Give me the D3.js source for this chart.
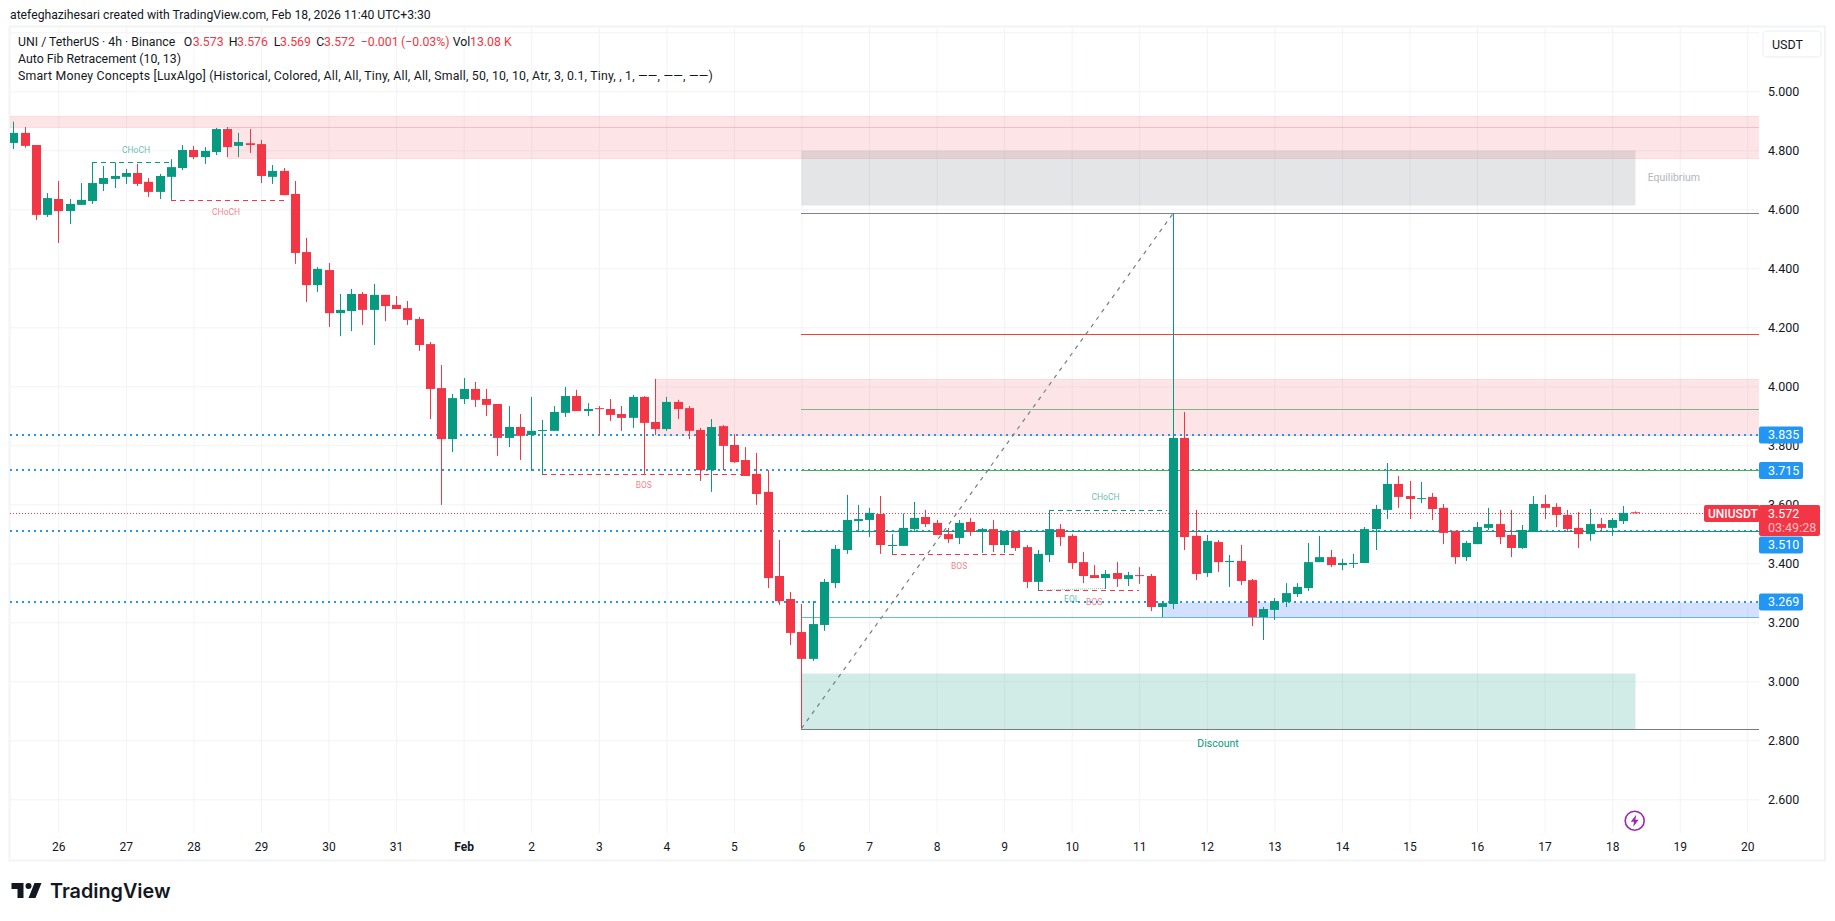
<!DOCTYPE html>
<html>
<head>
<meta charset="utf-8">
<script src="https://cdnjs.cloudflare.com/ajax/libs/d3/7.8.5/d3.min.js"></script>
<style>
    html, body { margin: 0; padding: 0; background: #fff; }
    svg { display: block; }
    text { font-family: Roboto, "Noto Sans", sans-serif; fill: #131722; }
</style>
</head>
<body>
<div id="chart"></div>
<script>
// 4h candles. Bar 0 is the first visible candle
const opens = [4.825,4.859,4.818,4.581,4.635,4.594,4.615,4.628,4.686,4.703,4.710,4.723,4.693,4.659,4.710,4.740,4.801,4.777,4.794,4.872,4.815,4.824,4.821,4.710,4.730,4.652,4.455,4.343,4.394,4.248,4.255,4.313,4.259,4.310,4.276,4.265,4.228,4.143,3.994,3.821,3.957,3.991,3.957,3.940,3.825,3.862,3.835,3.849,3.849,3.910,3.967,3.916,3.926,3.923,3.906,3.893,3.964,3.879,3.855,3.947,3.926,3.852,3.716,3.865,3.801,3.750,3.703,3.642,3.357,3.279,3.167,3.076,3.191,3.333,3.445,3.543,3.547,3.567,3.460,3.459,3.516,3.557,3.537,3.499,3.486,3.540,3.507,3.516,3.462,3.507,3.455,3.337,3.428,3.516,3.493,3.404,3.360,3.350,3.367,3.347,3.360,3.357,3.252,3.262,3.825,3.493,3.367,3.472,3.404,3.408,3.343,3.218,3.242,3.269,3.296,3.316,3.404,3.421,3.394,3.399,3.401,3.516,3.581,3.669,3.628,3.618,3.625,3.588,3.510,3.421,3.465,3.520,3.533,3.496,3.452,3.506,3.601,3.591,3.564,3.520,3.499,3.533,3.520,3.543,3.573];
const highs = [4.897,4.879,4.818,4.655,4.696,4.635,4.689,4.759,4.747,4.759,4.737,4.754,4.706,4.720,4.770,4.818,4.815,4.811,4.876,4.879,4.859,4.872,4.835,4.750,4.740,4.696,4.503,4.404,4.418,4.313,4.330,4.320,4.347,4.310,4.306,4.289,4.235,4.150,4.072,3.974,4.028,4.015,3.991,3.940,3.933,3.906,3.964,3.886,3.933,3.998,3.988,3.943,3.933,3.957,3.933,3.971,3.967,4.025,3.964,3.954,3.933,3.859,3.889,3.869,3.838,3.794,3.774,3.716,3.479,3.303,3.262,3.272,3.347,3.462,3.632,3.598,3.588,3.628,3.499,3.569,3.608,3.581,3.547,3.520,3.547,3.554,3.520,3.547,3.510,3.507,3.462,3.445,3.581,3.533,3.499,3.438,3.394,3.377,3.404,3.371,3.387,3.364,3.272,4.586,3.913,3.581,3.496,3.479,3.428,3.462,3.347,3.252,3.282,3.333,3.333,3.469,3.493,3.445,3.415,3.432,3.523,3.598,3.740,3.696,3.679,3.676,3.638,3.601,3.510,3.476,3.540,3.588,3.581,3.581,3.530,3.628,3.632,3.604,3.581,3.574,3.584,3.554,3.554,3.594,3.576];
const lows = [4.804,4.809,4.564,4.574,4.486,4.550,4.615,4.618,4.662,4.672,4.686,4.679,4.642,4.635,4.632,4.733,4.770,4.754,4.784,4.777,4.777,4.791,4.689,4.686,4.648,4.415,4.286,4.320,4.201,4.170,4.187,4.208,4.140,4.221,4.262,4.208,4.120,3.889,3.598,3.777,3.940,3.930,3.899,3.764,3.794,3.750,3.713,3.702,3.849,3.896,3.916,3.899,3.835,3.882,3.849,3.859,3.699,3.835,3.849,3.889,3.821,3.679,3.642,3.716,3.740,3.696,3.598,3.316,3.259,3.123,2.840,3.069,3.171,3.316,3.432,3.510,3.489,3.432,3.429,3.459,3.510,3.523,3.496,3.469,3.465,3.493,3.435,3.438,3.435,3.442,3.316,3.307,3.404,3.459,3.381,3.333,3.350,3.313,3.320,3.323,3.330,3.238,3.218,3.245,3.445,3.343,3.354,3.371,3.320,3.326,3.187,3.140,3.208,3.252,3.286,3.306,3.404,3.387,3.377,3.384,3.401,3.445,3.550,3.588,3.550,3.604,3.547,3.465,3.398,3.408,3.465,3.513,3.465,3.421,3.449,3.506,3.550,3.523,3.510,3.452,3.476,3.510,3.493,3.533,3.569];
const closes = [4.859,4.815,4.581,4.638,4.594,4.618,4.632,4.689,4.706,4.713,4.723,4.686,4.659,4.713,4.743,4.801,4.777,4.798,4.872,4.811,4.828,4.818,4.713,4.730,4.648,4.452,4.343,4.398,4.248,4.259,4.313,4.259,4.310,4.272,4.262,4.225,4.140,3.991,3.821,3.960,3.991,3.954,3.937,3.825,3.862,3.832,3.849,3.852,3.913,3.967,3.916,3.923,3.923,3.903,3.893,3.964,3.876,3.855,3.947,3.923,3.849,3.716,3.862,3.798,3.743,3.696,3.635,3.350,3.272,3.164,3.076,3.194,3.337,3.449,3.547,3.550,3.571,3.462,3.462,3.520,3.554,3.533,3.496,3.482,3.537,3.507,3.516,3.462,3.510,3.452,3.337,3.432,3.516,3.489,3.401,3.357,3.350,3.364,3.347,3.360,3.358,3.252,3.265,3.825,3.489,3.364,3.476,3.404,3.408,3.340,3.218,3.245,3.272,3.299,3.320,3.404,3.421,3.394,3.401,3.401,3.516,3.584,3.669,3.625,3.618,3.621,3.584,3.503,3.421,3.469,3.523,3.533,3.489,3.452,3.513,3.601,3.588,3.564,3.516,3.499,3.533,3.520,3.547,3.571,3.572];

// axis values
const gridPrices = [2.6,2.8,3.0,3.2,3.4,3.6,3.8,4.0,4.2,4.4,4.6,4.8,5.0,5.2];
const labelPrices = [2.6,2.8,3.0,3.2,3.4,3.6,3.8,4.0,4.2,4.4,4.6,4.8,5.0];
const dayLabels = ["26","27","28","29","30","31","Feb","2","3","4","5","6","7","8","9","10","11","12","13","14","15","16","17","18","19","20"];

// drawings on the chart: [fromBar, toBar, top, bottom], toBar null = right edge
const supplyZones = [[-4,null,4.916,4.879],[19,null,4.879,4.775],[57,null,4.025,3.834]];
const equilibriumZone = [70,144,4.801,4.614];
const discountZone = [70,144,3.028,2.840];
const demandZone = [102,null,3.270,3.217];
const horizontalLevels = [3.835,3.715,3.510,3.269];
const fibLevels = [4.586,4.176,3.922,3.716,3.508,3.217,2.840];
const fibColors = ["#7c80a5","#f44336","#81b784","#4caf50","#089981","#64b5f6","#787b86"];
const fibFromBar = 70;
const fibTrend = [[70,2.840],[103,4.586]];

// structure breaks: [fromBar, toBar, price]
const greenBreaks = [[7,14,4.759],[92,102.5,3.580]];
const redBreaks = [[14,24.3,4.631],[47,65,3.702],[78,89,3.430],[91,100,3.308]];
const eqlLine = [[91,3.308],[97,3.315]];

// little labels: [bar, price, text]
const greenNotes = [[10.9,4.802,"CHoCH"],[94,3.278,"EQL"],[97,3.624,"CHoCH"]];
const redNotes = [[18.9,4.590,"CHoCH"],[56,3.664,"BOS"],[84,3.390,"BOS"],[96,3.268,"BOS"]];

const lastPrice = 3.572;
const priceTagLabels = ["3.835","3.715","3.510","3.269"];

// legend row 1: [x, text, colour]
const legendRow = [
    [18,"UNI / TetherUS · 4h · Binance","#131722"],
    [183.7,"O","#131722"],[192.7,"3.573","#f23645"],
    [228.7,"H","#131722"],[237,"3.576","#f23645"],
    [273.7,"L","#131722"],[280,"3.569","#f23645"],
    [316.3,"C","#131722"],[324,"3.572","#f23645"],
    [360.7,"−0.001","#f23645"],[401,"(−0.03%)","#f23645"],
    [452.7,"Vol","#131722"],[470,"13.08 K","#f23645"]
];

const width = 1835, height = 921;
const plot = { left: 10, right: 1759, top: 27, bottom: 833 };
const UP = "#089981", DOWN = "#f23645", BLUE = "#2196f3";

const svg = d3.select("#chart").append("svg")
    .attr("width", width)
    .attr("height", height)
    .attr("viewBox", "0 0 " + width + " " + height);

const bars = closes.map(function (c, i) {
    return { i: i, open: opens[i], high: highs[i], low: lows[i], close: c };
});

// bar 4 sits on the 26 tick, six bars a day
const x = d3.scaleLinear().domain([4, 154]).range([58.3, 1747.3]);
const y = d3.scaleLinear().domain([5, 2.6]).range([91.3, 799.3]);
const px = function (i) { return Math.round(x(i)); };

svg.append("clipPath").attr("id", "plot-clip").append("rect")
    .attr("x", plot.left).attr("y", plot.top)
    .attr("width", plot.right - plot.left).attr("height", plot.bottom - plot.top);

// outer frame
svg.append("rect")
    .attr("x", 9.5).attr("y", 26.5).attr("width", 1815.5).attr("height", 834)
    .attr("fill", "none").attr("stroke", "#f2f3f5").attr("stroke-width", 2);

// ****************** grid and axes ***************************
const gridX = svg.append("g")
    .attr("transform", "translate(0," + plot.bottom + ")")
    .call(d3.axisBottom(x)
        .tickValues(dayLabels.map(function (d, i) { return 4 + i * 6; }))
        .tickSize(-(plot.bottom - plot.top))
        .tickPadding(9)
        .tickFormat(function (d, i) { return dayLabels[i]; }));
gridX.select(".domain").remove();
gridX.selectAll("line").attr("stroke", "#f2f3f5");
gridX.selectAll("text")
    .attr("font-size", 12).attr("fill", "#131722")
    .attr("font-weight", function (d, i) { return dayLabels[i] === "Feb" ? 700 : 400; });

const gridY = svg.append("g")
    .attr("transform", "translate(" + plot.right + ",0)")
    .call(d3.axisRight(y)
        .tickValues(gridPrices)
        .tickSize(-(plot.right - plot.left))
        .tickFormat(""));
gridY.select(".domain").remove();
gridY.selectAll("line").attr("stroke", "#f2f3f5");

const priceAxis = svg.append("g")
    .attr("transform", "translate(" + plot.right + ",0)")
    .call(d3.axisRight(y)
        .tickValues(labelPrices)
        .tickSize(0)
        .tickPadding(9)
        .tickFormat(d3.format(".3f")));
priceAxis.select(".domain").remove();
priceAxis.selectAll("text").attr("font-size", 12.5).attr("fill", "#131722");

// ****************** zones ***************************
const chart = svg.append("g").attr("clip-path", "url(#plot-clip)");

function drawZone(z, color, fillOpacity, strokeOpacity) {
    const x0 = px(z[0]);
    const x1 = z[1] === null ? plot.right : px(z[1]);
    chart.append("rect")
        .attr("x", x0 + 0.5)
        .attr("y", Math.round(y(z[2])) + 0.5)
        .attr("width", x1 - x0)
        .attr("height", Math.round(y(z[3])) - Math.round(y(z[2])))
        .attr("fill", color).attr("fill-opacity", fillOpacity)
        .attr("stroke", color).attr("stroke-opacity", strokeOpacity);
}

supplyZones.forEach(function (z) { drawZone(z, "#f23645", 0.13, 0.12); });
drawZone(equilibriumZone, "#787b86", 0.2, 0);
drawZone(discountZone, "#089981", 0.19, 0);
drawZone(demandZone, "#2962ff", 0.2, 0);

// ****************** lines ***************************
chart.selectAll("line.level").data(horizontalLevels).enter().append("line")
    .attr("class", "level")
    .attr("x1", plot.left).attr("x2", plot.right)
    .attr("y1", function (d) { return Math.round(y(d)); })
    .attr("y2", function (d) { return Math.round(y(d)); })
    .attr("stroke", BLUE).attr("stroke-width", 2).attr("stroke-dasharray", "2 4");

chart.selectAll("line.fib").data(fibLevels).enter().append("line")
    .attr("class", "fib")
    .attr("x1", px(fibFromBar)).attr("x2", plot.right)
    .attr("y1", function (d) { return Math.round(y(d)) + 0.5; })
    .attr("y2", function (d) { return Math.round(y(d)) + 0.5; })
    .attr("stroke", function (d, i) { return fibColors[i]; });

chart.append("path")
    .attr("d", d3.line().x(function (d) { return x(d[0]); }).y(function (d) { return y(d[1]); })(fibTrend))
    .attr("fill", "none").attr("stroke", "#787b86").attr("stroke-width", 1.2).attr("stroke-dasharray", "4 5");

// last price line stops at the symbol tag
chart.append("line")
    .attr("x1", plot.left).attr("x2", 1704)
    .attr("y1", Math.round(y(lastPrice)) + 0.5).attr("y2", Math.round(y(lastPrice)) + 0.5)
    .attr("stroke", DOWN).attr("stroke-dasharray", "1 2");

// ****************** candles ***************************
const candle = chart.selectAll("g.candle").data(bars).enter().append("g").attr("class", "candle");

candle.append("rect")
    .attr("x", function (d) { return px(d.i); })
    .attr("width", 1)
    .attr("y", function (d) { return y(d.high); })
    .attr("height", function (d) { return y(d.low) - y(d.high); })
    .attr("fill", function (d) { return d.close >= d.open ? UP : DOWN; });

candle.append("rect")
    .attr("x", function (d) { return px(d.i) - 4; })
    .attr("width", 9)
    .attr("y", function (d) { return y(Math.max(d.open, d.close)); })
    .attr("height", function (d) { return Math.max(1, Math.abs(y(d.open) - y(d.close))); })
    .attr("fill", function (d) { return d.close >= d.open ? UP : DOWN; });

// ****************** market structure ***************************
function drawBreaks(list, color) {
    chart.selectAll(null).data(list).enter().append("line")
        .attr("x1", function (d) { return px(d[0]); })
        .attr("x2", function (d) { return px(d[1]); })
        .attr("y1", function (d) { return Math.round(y(d[2])) + 0.5; })
        .attr("y2", function (d) { return Math.round(y(d[2])) + 0.5; })
        .attr("stroke", color).attr("stroke-dasharray", "5 4");
}
drawBreaks(greenBreaks, UP);
drawBreaks(redBreaks, DOWN);

chart.append("path")
    .attr("d", d3.line().x(function (d) { return x(d[0]); }).y(function (d) { return y(d[1]); })(eqlLine))
    .attr("fill", "none").attr("stroke", UP).attr("stroke-opacity", 0.55).attr("stroke-dasharray", "1 1");

function drawNotes(list, color) {
    chart.selectAll(null).data(list).enter().append("text")
        .attr("x", function (d) { return x(d[0]); })
        .attr("y", function (d) { return y(d[1]); })
        .attr("text-anchor", "middle").attr("dy", ".35em")
        .attr("font-size", 8.5)
        .style("fill", color).style("fill-opacity", 0.65)
        .text(function (d) { return d[2]; });
}
drawNotes(greenNotes, UP);
drawNotes(redNotes, DOWN);

chart.append("text")
    .attr("x", 1647.7).attr("y", y(4.71)).attr("dy", ".35em")
    .attr("font-size", 10.5).style("fill", "#b2b5be")
    .text("Equilibrium");
chart.append("text")
    .attr("x", 1218).attr("y", y(2.789)).attr("dy", ".35em")
    .attr("text-anchor", "middle").attr("font-size", 10.5).style("fill", UP)
    .text("Discount");

// lightning mark under the last bar
const bolt = svg.append("g").attr("transform", "translate(" + x(144) + ",820.7)");
bolt.append("circle").attr("r", 9.5).attr("fill", "#fff").attr("stroke", "#9c27b0").attr("stroke-width", 1.6);
bolt.append("path").attr("d", "M1.5 -6 L-4 1 L-0.7 1 L-1.5 6 L4 -1 L0.7 -1 Z").attr("fill", "#9c27b0");

// ****************** price tags ***************************
const tagY = [y(3.835), y(3.715), 545, y(3.269)];
const tags = svg.selectAll("g.tag").data(priceTagLabels).enter().append("g")
    .attr("class", "tag")
    .attr("transform", function (d, i) { return "translate(" + plot.right + "," + tagY[i] + ")"; });
tags.append("rect")
    .attr("y", -8.5).attr("width", 44).attr("height", 17).attr("rx", 2).attr("fill", BLUE);
tags.append("text")
    .attr("x", 9).attr("dy", ".35em").attr("font-size", 12.5)
    .style("fill", "#fff").text(function (d) { return d; });

svg.append("rect")
    .attr("x", 1704).attr("y", 505).attr("width", 56).attr("height", 17).attr("rx", 2).attr("fill", DOWN);
svg.append("text")
    .attr("x", 1708).attr("y", 513.7).attr("dy", ".35em").attr("font-size", 12)
    .attr("font-weight", 500).style("fill", "#fff").text("UNIUSDT");
svg.append("rect")
    .attr("x", plot.right).attr("y", 505).attr("width", 61).attr("height", 31).attr("rx", 2).attr("fill", DOWN);
svg.append("text")
    .attr("x", 1768).attr("y", 513.7).attr("dy", ".35em").attr("font-size", 12.5)
    .style("fill", "#fff").text("3.572");
svg.append("text")
    .attr("x", 1768).attr("y", 527.3).attr("dy", ".35em").attr("font-size", 12.5)
    .style("fill", "#fff").style("fill-opacity", 0.7).text("03:49:28");

// currency button
svg.append("rect")
    .attr("x", 1763).attr("y", 31).attr("width", 58).attr("height", 26).attr("rx", 4)
    .attr("fill", "#fff").attr("stroke", "#f0f3fa").attr("stroke-width", 1.5);
svg.append("text")
    .attr("x", 1772).attr("y", 44.3).attr("dy", ".35em").attr("font-size", 12.5)
    .text("USDT");

// ****************** header text ***************************
svg.append("text")
    .attr("x", 10).attr("y", 14.7).attr("dy", ".35em").attr("font-size", 12.2)
    .text("atefeghazihesari created with TradingView.com, Feb 18, 2026 11:40 UTC+3:30");

svg.selectAll("text.legend").data(legendRow).enter().append("text")
    .attr("class", "legend")
    .attr("x", function (d) { return d[0]; })
    .attr("y", 41.7).attr("dy", ".35em").attr("font-size", 12.3)
    .style("fill", function (d) { return d[2]; })
    .text(function (d) { return d[1]; });

svg.append("text")
    .attr("x", 18).attr("y", 59).attr("dy", ".35em").attr("font-size", 12.3)
    .text("Auto Fib Retracement (10, 13)");
svg.append("text")
    .attr("x", 18).attr("y", 76).attr("dy", ".35em").attr("font-size", 12.3)
    .style("letter-spacing", "0.2px")
    .text("Smart Money Concepts [LuxAlgo] (Historical, Colored, All, All, Tiny, All, All, Small, 50, 10, 10, Atr, 3, 0.1, Tiny, , 1, ——, ——, ——)");

// ****************** logo ***************************
const logo = svg.append("g").attr("transform", "translate(9.5,877)");
logo.append("path")
    .attr("d", "M14 6H2v6h6v9h6V6Zm12 15h-7l6-15h7l-6 15Zm-7-9a3 3 0 1 0 0-6 3 3 0 0 0 0 6Z")
    .attr("fill", "#131722");
svg.append("text")
    .attr("x", 50).attr("y", 891.5).attr("dy", ".35em")
    .attr("font-size", 19.8).attr("font-weight", 600)
    .style("font-family", "Inter, sans-serif")
    .text("TradingView");
</script>
</body>
</html>
